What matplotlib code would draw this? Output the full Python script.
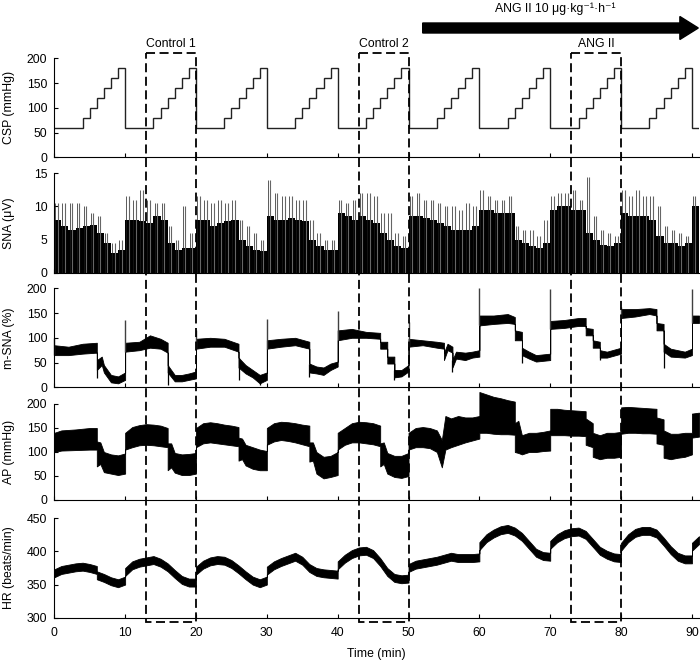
import matplotlib
matplotlib.use('Agg')
import matplotlib.pyplot as plt
from matplotlib.patches import Rectangle, FancyArrow
import numpy as np

plt.rcParams['font.family'] = ['Liberation Sans', 'DejaVu Sans']
plt.rcParams['font.size'] = 8.5

# ---------------- data ----------------
# carotid sinus pressure, one value per minute (0..90)
csp = [60, 60, 60, 60, 80, 100, 120, 140, 160, 180,
       60, 60, 60, 60, 80, 100, 120, 140, 160, 180,
       60, 60, 60, 60, 80, 100, 120, 140, 160, 180,
       60, 60, 60, 60, 80, 100, 120, 140, 160, 180,
       60, 60, 60, 60, 80, 100, 120, 140, 160, 180,
       60, 60, 60, 60, 80, 100, 120, 140, 160, 180,
       60, 60, 60, 60, 80, 100, 120, 140, 160, 180,
       60, 60, 60, 60, 80, 100, 120, 140, 160, 180,
       60, 60, 60, 60, 80, 100, 120, 140, 160, 180,
       60]

# SNA: dense body level and tallest burst for each minute
sna_body = [8, 7, 6.5, 6.8, 7, 7.2, 6, 4.5, 3, 3.5,
            8, 8, 7.8, 7.5, 8.5, 8, 4.5, 3.5, 3.8, 3.8,
            8, 8, 7, 7.5, 7.8, 8, 5, 4, 3.5, 3.3,
            8.5, 8, 8, 8.3, 8, 7.8, 5, 4, 3.5, 3.5,
            9, 8.5, 8, 8.5, 8, 7.5, 6, 5, 4, 3.8,
            8.5, 8.5, 8.2, 8, 7.5, 7, 6.5, 6.5, 6.5, 7,
            9.5, 9.5, 9, 9, 9, 5, 4.5, 4, 3.8, 4.5,
            9.5, 10, 10, 9.5, 9.5, 6, 5, 4.2, 4, 4.5,
            9, 8.5, 8.5, 8.5, 8, 5.5, 4.5, 4.5, 4, 4.5,
            10]
sna_peak = [10.5, 10.5, 10.5, 10.5, 10, 9, 8.5, 6, 4.5, 5,
            11.5, 11, 12.5, 11, 10.5, 10.5, 7, 5, 10, 6,
            11.5, 11, 10.5, 11, 10.5, 11, 8, 7, 6, 5,
            14, 12, 11.5, 11.5, 11, 11, 8, 6, 5, 5,
            11, 10.5, 11, 12, 12, 11.5, 9, 9, 6, 5.5,
            11.5, 12, 11, 11, 10.5, 10, 10, 9.5, 10.5, 10,
            12.5, 11.5, 11, 11, 11.5, 7, 6.5, 6.5, 5.5, 8,
            11.5, 12, 12, 12.5, 11, 14.5, 8.5, 6.5, 6, 5.5,
            12.5, 11.5, 12.5, 11.5, 11.5, 10, 7, 6.5, 6, 5.5,
            11.5]

# m-SNA band (low / high edge)
msna_t = [0, 2, 4, 6, 6, 6.7, 7, 8, 9, 10,
          10, 12, 13.5, 15, 16, 16, 17, 18, 19, 20,
          20, 22, 24, 26, 26, 27, 28, 29, 30,
          30, 32, 34, 36, 36, 37, 38, 39, 40,
          40, 42, 44, 46, 46, 47, 47, 48, 48, 49, 50,
          50, 52, 54, 55, 55, 55.5, 56.2, 56.2, 56.7, 58, 59, 60,
          60, 62, 64, 65, 65, 66, 66, 67, 68, 70,
          70, 72, 74, 75, 75, 76, 76, 77, 77, 78, 80,
          80, 82, 84, 85, 85, 86, 86, 87, 89, 90,
          90, 91]
msna_lo = [65, 65, 68, 70, 35, 45, 30, 10, 8, 15,
           72, 75, 80, 78, 70, 30, 12, 12, 15, 18,
           78, 82, 82, 72, 40, 28, 20, 8, 15,
           78, 82, 85, 78, 30, 28, 25, 35, 42,
           95, 100, 100, 98, 78, 78, 48, 48, 20, 22, 32,
           82, 85, 80, 78, 55, 75, 70, 40, 58, 55, 60, 62,
           125, 128, 130, 128, 95, 95, 65, 58, 52, 55,
           118, 120, 124, 124, 105, 105, 80, 80, 60, 60, 68,
           140, 143, 148, 145, 115, 115, 72, 62, 60, 65,
           130, 130]
msna_hi = [85, 82, 88, 90, 55, 62, 45, 25, 22, 30,
           90, 92, 105, 98, 90, 45, 25, 25, 28, 32,
           98, 100, 98, 88, 60, 45, 35, 25, 30,
           95, 98, 100, 92, 48, 42, 40, 48, 52,
           115, 118, 112, 110, 92, 92, 62, 62, 35, 35, 45,
           98, 95, 92, 90, 70, 88, 82, 55, 72, 70, 72, 75,
           145, 145, 148, 142, 115, 112, 80, 72, 65, 68,
           134, 136, 140, 140, 120, 118, 95, 92, 75, 72, 80,
           158, 158, 160, 158, 130, 128, 88, 78, 72, 78,
           145, 145]
msna_up_t = [0, 10, 20, 30, 40, 50, 60, 70, 80, 90]
msna_up_v = [100, 135, 115, 138, 155, 132, 200, 198, 163, 198]
msna_dn_t = [6, 16, 26, 29, 36, 48, 56.2, 66, 77, 86]
msna_dn_v = [18, 5, 15, 5, 20, 15, 30, 50, 55, 38]

# arterial pressure band (systolic / diastolic)
ap_t = [0, 1, 3, 5, 6, 6, 6.5, 7, 8, 9, 10,
        10, 11, 12, 13, 14, 15, 16, 16, 16.5, 17, 18, 19, 20,
        20, 21, 22, 23, 24, 25, 26, 26, 26.5, 27, 28, 29, 30,
        30, 31, 32, 33, 34, 35, 36, 36, 36.5, 37, 38, 39, 40,
        40, 41, 42, 43, 44, 45, 46, 46, 46.5, 47, 48, 49, 50,
        50, 51, 52, 53, 54, 54.7, 55.2, 56, 57, 58, 59, 60,
        60, 61, 62, 63, 64, 65, 65, 65.5, 66, 67, 68, 69, 70,
        70, 71, 72, 73, 74, 75, 75, 76, 76, 77, 78, 79, 80,
        80, 81, 82, 83, 84, 85, 85, 86, 86, 87, 88, 89, 90,
        90, 91]
ap_sys = [140, 145, 147, 150, 150, 122, 120, 100, 95, 93, 97,
          140, 152, 156, 158, 157, 155, 150, 118, 118, 98, 95, 96, 98,
          150, 160, 162, 160, 157, 155, 152, 130, 128, 115, 110, 105, 102,
          150, 160, 163, 162, 160, 157, 155, 120, 120, 100, 90, 92, 100,
          140, 150, 160, 163, 162, 160, 155, 118, 120, 98, 92, 92, 98,
          140, 150, 152, 150, 145, 125, 175, 170, 175, 172, 172, 175,
          225, 220, 215, 212, 208, 205, 160, 165, 135, 140, 140, 142, 145,
          190, 190, 188, 187, 186, 185, 170, 160, 140, 135, 140, 140, 142,
          193, 194, 193, 192, 191, 190, 172, 168, 145, 138, 138, 140, 140,
          180, 182]
ap_dia = [100, 103, 104, 105, 105, 70, 75, 58, 55, 52, 55,
          105, 110, 114, 115, 114, 112, 110, 62, 68, 57, 52, 52, 55,
          110, 118, 120, 118, 116, 114, 112, 82, 85, 72, 65, 62, 62,
          115, 122, 125, 123, 120, 116, 112, 80, 82, 55, 45, 48, 52,
          105, 115, 120, 120, 118, 116, 112, 70, 75, 55, 48, 46, 50,
          105, 110, 110, 108, 100, 68, 105, 110, 115, 120, 124, 128,
          140, 140, 138, 137, 137, 136, 100, 98, 95, 100, 100, 102, 103,
          135, 135, 135, 134, 134, 133, 115, 110, 90, 85, 88, 88, 90,
          138, 140, 140, 139, 139, 138, 118, 115, 88, 85, 88, 90, 95,
          130, 132]

# heart rate, centre of the trace
hr_t = [0, 1, 2, 3, 4, 5, 6, 6, 7, 8, 9, 10,
        10, 11, 12, 13, 14, 15, 16, 17, 18, 19, 20,
        20, 21, 22, 23, 24, 25, 26, 27, 28, 29, 30,
        30, 31, 32, 33, 34, 35, 36, 37, 38, 39, 40,
        40, 41, 42, 43, 44, 45, 46, 47, 48, 49, 50,
        50, 51, 52, 53, 54, 55, 56, 57, 58, 59, 60,
        60, 61, 62, 63, 64, 65, 66, 67, 68, 69, 70,
        70, 71, 72, 73, 74, 75, 76, 77, 78, 79, 80,
        80, 81, 82, 83, 84, 85, 86, 87, 88, 89, 90,
        90, 91]
hr_mid = [367, 372, 374, 376, 377, 375, 372, 364, 360, 355, 352, 356,
          369, 379, 383, 385, 387, 383, 376, 366, 357, 353, 353,
          371, 380, 385, 387, 386, 381, 373, 364, 356, 352, 356,
          371, 379, 384, 388, 392, 386, 375, 369, 367, 366, 365,
          379, 389, 396, 400, 401, 396, 384, 369, 360, 358, 359,
          375, 380, 382, 384, 386, 389, 392, 390, 390, 390, 391,
          408, 420, 427, 432, 434, 430, 422, 410, 398, 393, 392,
          410, 420, 426, 429, 430, 425, 413, 401, 395, 391, 390,
          407, 420, 428, 431, 431, 427, 415, 402, 392, 388, 388,
          407, 417]
hr_noise = 6

box_start = [13, 43, 73]
box_end = [20, 50, 80]
box_names = ['Control 1', 'Control 2', 'ANG II']
infusion_start = 52
infusion_label = 'ANG II 10 \u03bcg\u00b7kg\u207b\u00b9\u00b7h\u207b\u00b9'

# ---------------- figure ----------------
W, H = 700, 662
fig = plt.figure(figsize=(W / 100, H / 100), dpi=100)
left_px, right_px = 54.3, 699
panels_px = [(58.3, 157.3), (173.3, 272.7), (288.3, 387.3), (404, 500), (518.3, 617.7)]
axs = []
for top, bot in panels_px:
    ax = fig.add_axes([left_px / W, 1 - bot / H, (right_px - left_px) / W, (bot - top) / H])
    axs.append(ax)

XMAX = 91
minute_edges = np.arange(len(csp) + 1)

for ax in axs:
    ax.set_xlim(0, XMAX)
    ax.spines['top'].set_visible(False)
    ax.spines['right'].set_visible(False)
    ax.spines['left'].set_linewidth(0.8)
    ax.spines['bottom'].set_linewidth(0.8)
    ax.set_xticks(np.arange(0, 91, 10))
    ax.tick_params(direction='in', length=3, width=0.8, labelsize=8.8)
    ax.tick_params(axis='y', pad=5)
    ax.tick_params(axis='x', pad=7)
    ax.yaxis.set_label_coords(-0.061, 0.5)
for ax in axs[:-1]:
    ax.tick_params(axis='x', labelbottom=False)

# CSP
ax = axs[0]
ax.stairs(csp, minute_edges, color='#222222', lw=1.0, baseline=None)
ax.set_ylim(0, 200)
ax.set_yticks([0, 50, 100, 150, 200])
ax.set_ylabel('CSP (mmHg)', fontsize=8.8)

# SNA
ax = axs[1]
ax.stairs(sna_body, minute_edges, fill=True, color='black', lw=0)
ax.vlines(minute_edges[:-1] + 0.5, 0, sna_peak, color='0.4', lw=0.8)
ax.vlines(minute_edges[:-1] + 0.15, 0, sna_peak, color='0.1', lw=0.5)
ax.set_ylim(0, 15)
ax.set_yticks([0, 5, 10, 15])
ax.set_ylabel('SNA (\u03bcV)', fontsize=8.8)

# m-SNA
ax = axs[2]
ax.fill_between(msna_t, msna_lo, msna_hi, color='black', lw=0.6, edgecolor='black')
lo_at_up = np.interp(msna_up_t, msna_t, msna_lo)
ax.vlines(msna_up_t, lo_at_up, msna_up_v, color='0.25', lw=1.0, clip_on=False)
hi_at_dn = np.interp(msna_dn_t, msna_t, msna_hi)
ax.vlines(msna_dn_t, msna_dn_v, hi_at_dn, color='black', lw=0.9)
ax.set_ylim(0, 200)
ax.set_yticks([0, 50, 100, 150, 200])
ax.set_ylabel('m-SNA (%)', fontsize=8.8)

# AP
ax = axs[3]
ax.fill_between(ap_t, ap_dia, ap_sys, color='black', lw=0.6, edgecolor='black', clip_on=False)
ax.set_ylim(0, 200)
ax.set_yticks([0, 50, 100, 150, 200])
ax.set_ylabel('AP (mmHg)', fontsize=8.8)

# HR
ax = axs[4]
hr_mid = np.array(hr_mid)
ax.fill_between(hr_t, hr_mid - hr_noise, hr_mid + hr_noise, color='black', lw=0.6, edgecolor='black')
ax.set_ylim(300, 450)
ax.set_yticks([300, 350, 400, 450])
ax.set_ylabel('HR (beats/min)', fontsize=8.8)
ax.set_xlabel('Time (min)', labelpad=6, fontsize=8.8)

# overlay for dashed boxes, labels and infusion arrow (y in pixels)
ov = fig.add_axes([left_px / W, 0, (right_px - left_px) / W, 1])
ov.set_xlim(0, XMAX)
ov.set_ylim(H, 0)
ov.axis('off')
ov.patch.set_alpha(0)
for s, e, name in zip(box_start, box_end, box_names):
    ov.add_patch(Rectangle((s, 53), e - s, 569, fill=False, ec='black', lw=1.3,
                           ls=(0, (5, 2.5)), clip_on=False))
    ov.text((s + e) / 2, 47, name, ha='center', va='baseline', fontsize=8.8)
ov.add_patch(FancyArrow(infusion_start, 28, 90.9 - infusion_start, 0, width=10,
                        head_width=23, head_length=2.6, length_includes_head=True,
                        color='black', clip_on=False))
ov.text(70.7, 12, infusion_label, ha='center', va='baseline', fontsize=8.8)

fig.savefig('out.png', dpi=100)
